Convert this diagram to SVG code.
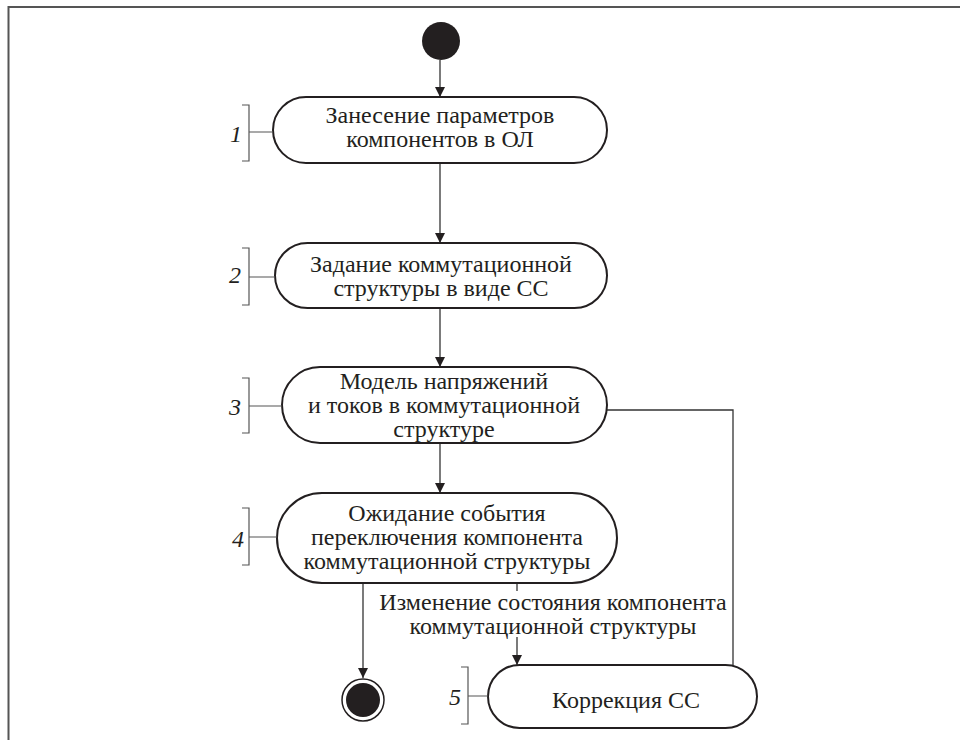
<svg xmlns="http://www.w3.org/2000/svg" width="960" height="740" viewBox="0 0 960 740">
<defs>
<marker id="arr" viewBox="0 0 10 10" refX="10" refY="5" markerWidth="10" markerHeight="10" markerUnits="userSpaceOnUse" orient="auto">
<path d="M0,0 L10,5 L0,10 z" fill="#231f20"/>
</marker>
<style>
.node{fill:#fff;stroke:#231f20;stroke-width:2}
.t{font-family:"Liberation Serif","Times New Roman",serif;font-size:24px;fill:#231f20;text-anchor:middle}
.num{font-family:"Liberation Serif","Times New Roman",serif;font-size:24px;font-style:italic;fill:#231f20;text-anchor:middle}
.br{fill:none;stroke:#555;stroke-width:1.2}
.c{fill:none;stroke:#333;stroke-width:1.3}
</style>
</defs>
<rect width="960" height="740" fill="#fff"/>
<path d="M8.5,740 V7 H960" fill="none" stroke="#555" stroke-width="2"/>

<g id="connectors">
<line class="c" x1="440" y1="60" x2="440" y2="97" marker-end="url(#arr)"/>
<line class="c" x1="440" y1="163" x2="440" y2="243" marker-end="url(#arr)"/>
<line class="c" x1="440" y1="308" x2="440" y2="367" marker-end="url(#arr)"/>
<line class="c" x1="440" y1="443" x2="440" y2="493" marker-end="url(#arr)"/>
<line class="c" x1="363" y1="583" x2="363" y2="678" marker-end="url(#arr)"/>
<line class="c" x1="517" y1="583" x2="517" y2="591"/>
<line class="c" x1="517" y1="637" x2="517" y2="665" marker-end="url(#arr)"/>
<polyline class="c" points="733,665 733,410 607,410"/>
<text class="t" x="553" y="610">Изменение состояния компонента</text>
<text class="t" x="553" y="634">коммутационной структуры</text>
</g>

<g id="start">
<circle cx="441" cy="41" r="19" fill="#231f20"/>
</g>

<g id="n1">
<rect class="node" x="273" y="97" width="334" height="66" rx="33"/>
<text class="t" x="440" y="123">Занесение параметров</text>
<text class="t" x="440" y="147">компонентов в ОЛ</text>
<path class="br" d="M242,105 H249 V161 H242 M249,132 H273"/>
<text class="num" x="236" y="142">1</text>
</g>

<g id="n2">
<rect class="node" x="275" y="243" width="332" height="65" rx="32.5"/>
<text class="t" x="441" y="272">Задание коммутационной</text>
<text class="t" x="441" y="296">структуры в виде СС</text>
<path class="br" d="M242,248 H249 V305 H242 M249,277 H275"/>
<text class="num" x="235" y="283">2</text>
</g>

<g id="n3">
<rect class="node" x="282" y="367" width="325" height="76" rx="38"/>
<text class="t" x="444" y="389">Модель напряжений</text>
<text class="t" x="444" y="413">и токов в коммутационной</text>
<text class="t" x="444" y="437">структуре</text>
<path class="br" d="M242,378 H249 V433 H242 M249,406 H282"/>
<text class="num" x="235" y="415">3</text>
</g>

<g id="n4">
<rect class="node" x="277" y="493" width="340" height="90" rx="45"/>
<text class="t" x="447" y="521">Ожидание события</text>
<text class="t" x="447" y="545">переключения компонента</text>
<text class="t" x="447" y="569">коммутационной структуры</text>
<path class="br" d="M242,508 H249 V565 H242 M249,537 H277"/>
<text class="num" x="238" y="547">4</text>
</g>

<g id="n5">
<rect class="node" x="488" y="665" width="269" height="63" rx="31.5"/>
<text class="t" x="626" y="708">Коррекция СС</text>
<path class="br" d="M461,667 H468 V724 H461 M468,696 H488"/>
<text class="num" x="455" y="705">5</text>
</g>

<g id="end">
<circle cx="363" cy="700" r="21" fill="#fff" stroke="#231f20" stroke-width="1.5"/>
<circle cx="363" cy="700" r="17" fill="#231f20"/>
</g>
</svg>
